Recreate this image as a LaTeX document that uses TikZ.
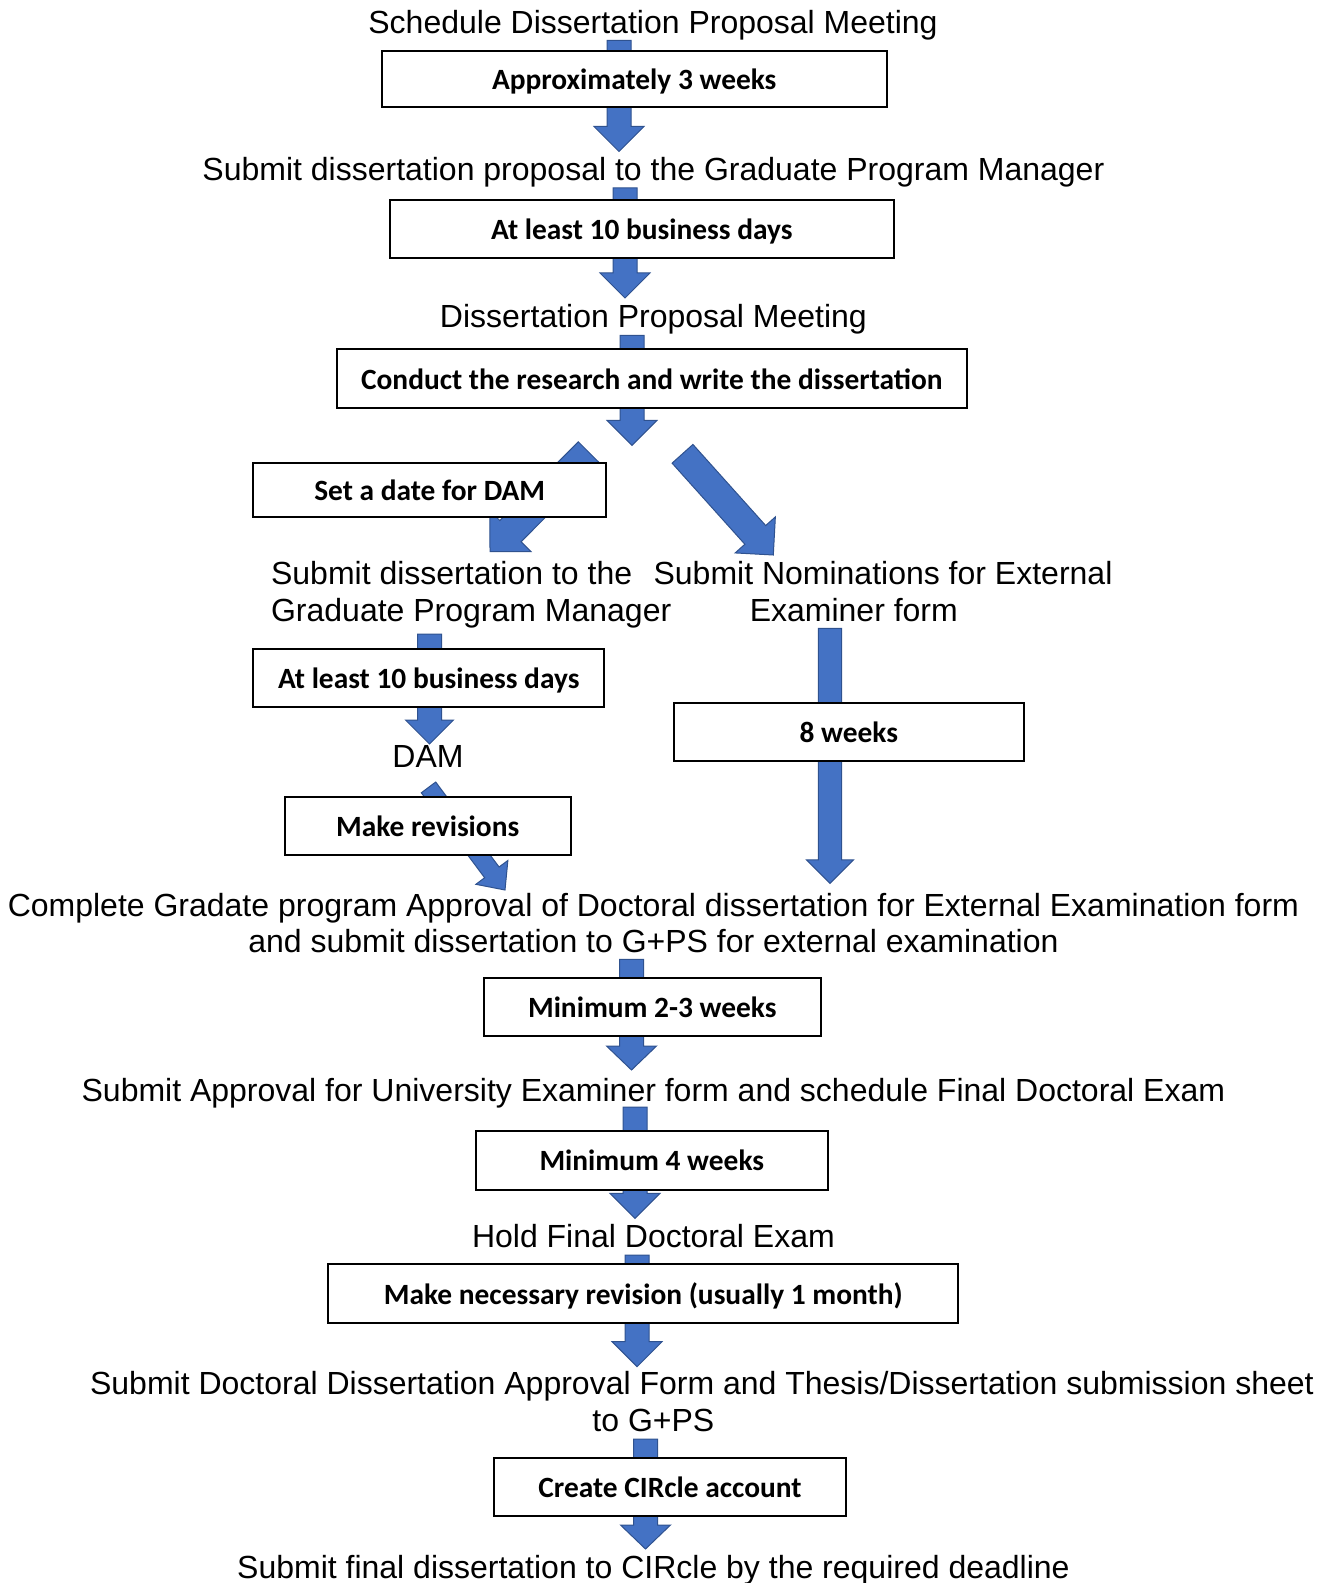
\documentclass[tikz,border=0pt]{standalone}
\usepackage{fontspec}
\setmainfont{Liberation Sans}
\newfontfamily\boxfont{Carlito}
\usetikzlibrary{calc}
\definecolor{arrfill}{HTML}{4472C4}
\definecolor{arrdraw}{HTML}{2F528F}
\tikzset{
  lbl/.style={font=\fontsize{16}{19}\selectfont, inner sep=0pt, text depth=0pt},
  tbox/.style={draw=black, line width=1pt, fill=white, inner sep=0pt, text depth=0pt,
    font=\boxfont\bfseries\fontsize{14.7}{17}\selectfont},
  barr/.style={fill=arrfill, draw=arrdraw, line width=0.5pt, line join=miter},
}
% #1 tail, #2 tip, #3 half shaft width, #4 half head width, #5 head length
\newcommand\blockarr[5]{%
  \coordinate (ba-h) at ($(#2)!#5!(#1)$);
  \filldraw[barr] ($(#1)!#3!90:(#2)$) -- ($(ba-h)!#3!90:(#2)$) -- ($(ba-h)!#4!90:(#2)$)
    -- (#2) -- ($(ba-h)!#4!-90:(#2)$) -- ($(ba-h)!#3!-90:(#2)$) -- ($(#1)!#3!-90:(#2)$) -- cycle;
}
\begin{document}
\begin{tikzpicture}[x=0.5pt,y=-0.5pt]
\useasboundingbox (0,0) rectangle (1330,1583);
% arrow end points
\coordinate (a1s) at (619,40.4);   \coordinate (a1e) at (619,151.5);
\coordinate (a2s) at (625,187.8);  \coordinate (a2e) at (625,298);
\coordinate (a3s) at (632,335.3);  \coordinate (a3e) at (632,445.4);
\coordinate (aLs) at (588.9,452.4); \coordinate (aLe) at (490,551.7);
\coordinate (aRs) at (682.5,453.8); \coordinate (aRe) at (773.3,555);
\coordinate (a5s) at (429.5,634);  \coordinate (a5e) at (429.5,744);
\coordinate (a6s) at (428.5,787.4); \coordinate (a6e) at (505,890);
\coordinate (a7s) at (830,628.3);  \coordinate (a7e) at (830,883.3);
\coordinate (a8s) at (631.5,959.4); \coordinate (a8e) at (631.5,1070);
\coordinate (a9s) at (635,1107);   \coordinate (a9e) at (635,1218.3);
\coordinate (a10s) at (637,1255);  \coordinate (a10e) at (637,1366.7);
\coordinate (a11s) at (645.5,1439); \coordinate (a11e) at (645.5,1549);
% arrows
\blockarr{a1s}{a1e}{6pt}{12.5pt}{12.5pt}
\blockarr{a2s}{a2e}{6pt}{12.5pt}{12.5pt}
\blockarr{a3s}{a3e}{6pt}{12.5pt}{12.5pt}
\blockarr{aLs}{aLe}{7.5pt}{14.5pt}{14.5pt}
\blockarr{aRs}{aRe}{7pt}{13.5pt}{13.5pt}
\blockarr{a5s}{a5e}{6pt}{12pt}{12pt}
\blockarr{a6s}{a6e}{4.5pt}{10pt}{11pt}
\blockarr{a7s}{a7e}{5.8pt}{11.7pt}{11.7pt}
\blockarr{a8s}{a8e}{6pt}{12.5pt}{12pt}
\blockarr{a9s}{a9e}{6pt}{12.5pt}{12.5pt}
\blockarr{a10s}{a10e}{6pt}{12.5pt}{12.5pt}
\blockarr{a11s}{a11e}{6pt}{12.5pt}{12pt}
% boxes
\node[tbox, minimum width=252.5pt, minimum height=28.25pt] (b1) at (634.2,78.8) {Approximately 3 weeks};
\node[tbox, minimum width=252pt, minimum height=29.25pt] (b2) at (641.8,229.2) {At least 10 business days};
\node[tbox, minimum width=314.6pt, minimum height=29.3pt] (b3) at (651.9,378.7) {Conduct the research and write the dissertation};
\node[tbox, minimum width=176.25pt, minimum height=27.25pt] (b4) at (429.7,489.8) {Set a date for DAM};
\node[tbox, minimum width=175.25pt, minimum height=28.8pt] (b5) at (428.7,678.2) {At least 10 business days};
\node[tbox, minimum width=142.9pt, minimum height=29.3pt] (b6) at (427.7,826.1) {Make revisions};
\node[tbox, minimum width=175.2pt, minimum height=29.25pt] (b7) at (848.8,732.2) {8 weeks};
\node[tbox, minimum width=168.65pt, minimum height=29.2pt] (b8) at (652.3,1006.8) {Minimum 2-3 weeks};
\node[tbox, minimum width=176.15pt, minimum height=29.35pt] (b9) at (651.8,1160.3) {Minimum 4 weeks};
\node[tbox, minimum width=315.1pt, minimum height=29.3pt] (b10) at (643.3,1293.7) {Make necessary revision (usually 1 month)};
\node[tbox, minimum width=176.25pt, minimum height=28.75pt] (b11) at (670,1487) {Create CIRcle account};
% labels
\node[lbl] (t1) at (653,22.2) {Schedule Dissertation Proposal Meeting};
\node[lbl] (t2) at (653.4,168.6) {Submit dissertation proposal to the Graduate Program Manager};
\node[lbl] (t3) at (653.4,316) {Dissertation Proposal Meeting};
\node[lbl, anchor=west] (t4a) at (270.7,572.6) {Submit dissertation to the};
\node[lbl, anchor=west] (t4b) at (270.7,610) {Graduate Program Manager};
\node[lbl] (t5a) at (883,572.6) {Submit Nominations for External};
\node[lbl] (t5b) at (853.8,610) {Examiner form};
\node[lbl] (t6) at (428,756.4) {DAM};
\node[lbl] (t7a) at (653.4,904.9) {Complete Gradate program Approval of Doctoral dissertation for External Examination form};
\node[lbl] (t7b) at (653.4,941.2) {and submit dissertation to G+PS for external examination};
\node[lbl] (t8) at (653.4,1089.7) {Submit Approval for University Examiner form and schedule Final Doctoral Exam};
\node[lbl] (t9) at (653.4,1236) {Hold Final Doctoral Exam};
\node[lbl] (t10a) at (701.9,1382.5) {Submit Doctoral Dissertation Approval Form and Thesis/Dissertation submission sheet};
\node[lbl] (t10b) at (653.4,1420) {to G+PS};
\node[lbl] (t11) at (653.4,1567.3) {Submit final dissertation to CIRcle by the required deadline};
\end{tikzpicture}
\end{document}
